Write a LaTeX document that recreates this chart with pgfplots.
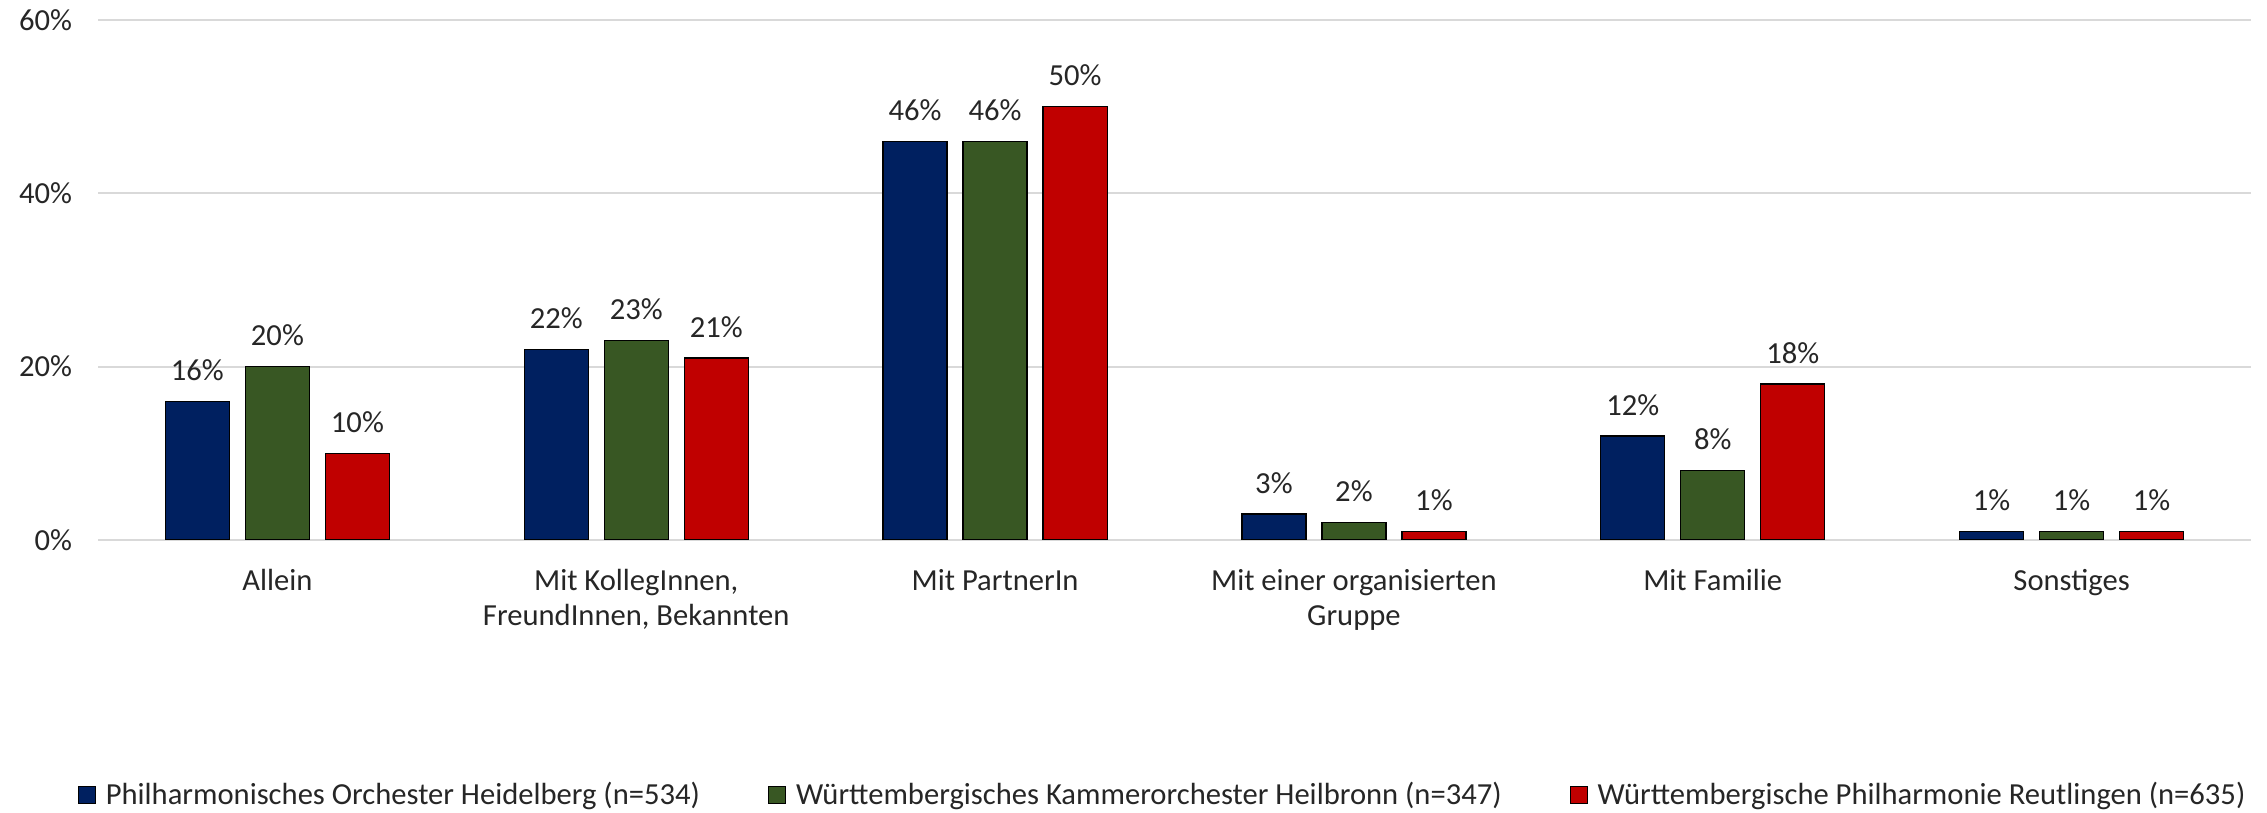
\documentclass[border=0pt]{standalone}
\usepackage{fontspec}
\setmainfont{Carlito}
\usepackage{pgfplots}
\pgfplotsset{compat=1.18}
\definecolor{cblue}{RGB}{0,32,96}
\definecolor{cgreen}{RGB}{56,87,35}
\definecolor{cred}{RGB}{192,0,0}
\definecolor{cgrid}{RGB}{217,217,217}
\newcommand{\chartfont}{\fontsize{15.3}{17.3}\selectfont}
\begin{document}
\begin{tikzpicture}
\begin{axis}[
  name=ax,
  scale only axis,
  width=1076.5pt, height=260pt,
  ybar=8pt, bar width=32pt,
  xmin=-0.5, xmax=5.5, ymin=0, ymax=60,
  xtick={0,...,5},
  xticklabels={Allein, {Mit KollegInnen,\\FreundInnen, Bekannten}, Mit PartnerIn,
               {Mit einer organisierten\\Gruppe}, Mit Familie, Sonstiges},
  ytick={0,20,40,60},
  yticklabels={0\%,20\%,40\%,60\%},
  ymajorgrids, grid style={cgrid, line width=1pt},
  axis line style={draw=none},
  major tick style={draw=none},
  tick label style={font=\chartfont, text=black!85},
  xticklabel style={align=center, yshift=-7pt},
  yticklabel style={xshift=-9.5pt},
  nodes near coords={\pgfmathprintnumber[assume math mode=true]{\pgfplotspointmeta}\%},
  every node near coord/.append style={font=\chartfont, text=black!85, inner sep=0pt, yshift=10pt},
  legend style={at={(0.5,0)}, anchor=center, yshift=-127.5pt, xshift=-5.5pt,
                draw=none, font=\chartfont, text=black!85,
                /tikz/every odd column/.append style={column sep=3pt},
                /tikz/every even column/.append style={column sep=32pt}},
  legend columns=3,
  legend image code/.code={\draw[#1,draw=black,line width=0.6pt] (0pt,-4.25pt) rectangle (8.5pt,4.25pt);},
]
% Philharmonisches Orchester Heidelberg
\addplot[fill=cblue, draw=black, line width=0.6pt] coordinates {
  (0,16) (1,22) (2,46) (3,3) (4,12) (5,1)};
\addlegendentry{Philharmonisches Orchester Heidelberg (n=534)}
% Wuerttembergisches Kammerorchester Heilbronn
\addplot[fill=cgreen, draw=black, line width=0.6pt] coordinates {
  (0,20) (1,23) (2,46) (3,2) (4,8) (5,1)};
\addlegendentry{Württembergisches Kammerorchester Heilbronn (n=347)}
% Wuerttembergische Philharmonie Reutlingen
\addplot[fill=cred, draw=black, line width=0.6pt] coordinates {
  (0,10) (1,21) (2,50) (3,1) (4,18) (5,1)};
\addlegendentry{Württembergische Philharmonie Reutlingen (n=635)}
\end{axis}
\pgfresetboundingbox
\path[use as bounding box] ([xshift=-49pt,yshift=-136.5pt]ax.south west)
  rectangle ([xshift=8pt,yshift=10pt]ax.north east);
\end{tikzpicture}
\end{document}
